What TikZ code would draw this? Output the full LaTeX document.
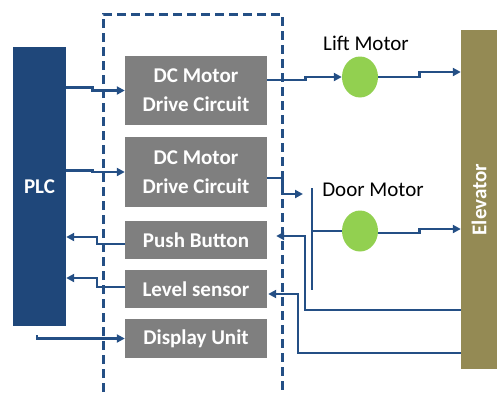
\documentclass[tikz,border=0pt]{standalone}
\usepackage{fontspec}
\setmainfont{Carlito}
\usetikzlibrary{arrows.meta, shapes.geometric, calc}
\definecolor{lineblue}{HTML}{244F85}
\definecolor{plcblue}{HTML}{1F477A}
\definecolor{boxgray}{HTML}{7F7F7F}
\definecolor{motorgreen}{HTML}{92D050}
\definecolor{elevolive}{HTML}{948A54}
\newcommand{\diagfont}{\fontsize{21}{29}\selectfont}

\begin{document}
\begin{tikzpicture}[x=1pt, y=-1pt, >={Triangle[length=8pt,width=8pt]},
  conn/.style={draw=lineblue, line width=2.6pt},
  graybox/.style={fill=boxgray, text=white, font=\diagfont\bfseries, minimum width=142pt, align=center, inner sep=0pt},
  motor/.style={ellipse, fill=motorgreen, minimum width=36pt, minimum height=41pt, inner sep=0pt}]
  \useasboundingbox (0,0) rectangle (497,392);

  % controller and elevator
  \node[fill=plcblue, text=white, font=\diagfont\bfseries, minimum width=53pt, minimum height=279pt, inner sep=0pt] (plc) at (39.5,186.5) {PLC};
  \node[fill=elevolive, minimum width=36pt, minimum height=339pt, inner sep=0pt] (elev) at (479,199.5) {};
  \node[rotate=90, text=white, font=\diagfont\bfseries] (elevtxt) at (elev.center) {Elevator};

  % interface boundary
  \draw[lineblue, line width=3pt, dash pattern=on 9pt off 5pt] (103,392) -- (103,14) -- (282,14) -- (282,392);

  % interface blocks
  \node[graybox, minimum height=69pt] (dc1) at (196,90.5) {DC Motor\\Drive Circuit};
  \node[graybox, minimum height=70pt] (dc2) at (196,172) {DC Motor\\Drive Circuit};
  \node[graybox, minimum height=38pt] (pb) at (196,240) {Push Button};
  \node[graybox, minimum height=38pt] (ls) at (196,289) {Level sensor};
  \node[graybox, minimum height=39pt] (disp) at (196,338.5) {Display Unit};

  % motors
  \node[motor] (lift) at (360,77) {};
  \node[motor] (door) at (360,231) {};
  \node[font=\diagfont] (liftlbl) at (366,43) {Lift Motor};
  \node[font=\diagfont] (doorlbl) at (373,190) {Door Motor};

  % PLC outputs
  \draw[conn,->] (plc.east |- dc1.west) ++(0,-3) -- ++(26,0) -- ++(0,3) -- (dc1.west);
  \draw[conn,->] (plc.east |- dc2.west) ++(0,-1.5) -- ++(26,0) -- ++(0,1.5) -- (dc2.west);
  \draw[conn,->] ([xshift=-2.5pt,yshift=-9pt]plc.south) |- (disp.west);

  % sensor inputs to PLC
  \draw[conn,->] (pb.west) ++(0,4) -- ++(-28,0) -- ++(0,-7) -- (plc.east |- 0,237);
  \draw[conn,->] (ls.west) ++(0,-2) -- ++(-28,0) -- ++(0,-9) -- (plc.east |- 0,278);

  % drives to motors
  \draw[conn,->] (lift.west -| dc1.east) ++(0,3) -- ++(38,0) -- ++(0,-3) -- (lift.west);
  \draw[conn,->] (lift.east) -- ++(41,0) |- ($(elev.west |- lift.east)+(0,-5)$);
  \coordinate (doorin) at (303,194);
  \draw[conn,->] (dc2.east) ++(0,6) -- ++(15,0) |- (doorin);
  \coordinate (bartop) at (312,188);
  \coordinate (barbot) at (312,290);
  \draw[conn] (bartop) -- (barbot);
  \draw[conn] (bartop |- door.west) -- (door.west);
  \draw[conn,->] (door.east) ++(0,2) -- ++(41,0) |- ($(elev.west |- door.east)+(0,-2)$);

  % elevator feedback
  \draw[conn,->] (elev.west |- 0,310) -| (305,236) -- ([xshift=9pt]pb.east |- 0,236);
  \draw[conn,->] (elev.west |- 0,353) -| (298,294) -- ([xshift=1pt]ls.east |- 0,294);
\end{tikzpicture}
\end{document}
